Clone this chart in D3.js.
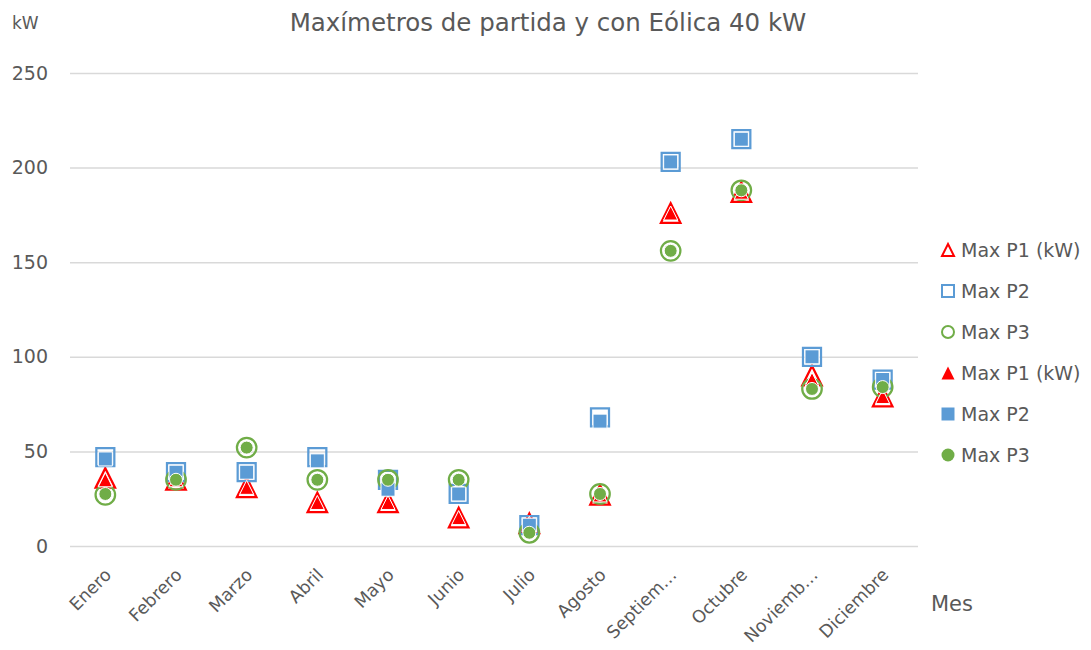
<!DOCTYPE html>
<html><head><meta charset="utf-8">
<script src="https://cdn.jsdelivr.net/npm/d3@7"></script>
<style>body{margin:0;background:#fff}svg{display:block}text{font-family:"DejaVu Sans",sans-serif;fill:#595959}</style>
</head><body><svg id="c" width="1091" height="650"></svg>
<script>
const months = ["Enero","Febrero","Marzo","Abril","Mayo","Junio","Julio","Agosto","Septiembre","Octubre","Noviembre","Diciembre"];
const monthLabels = ["Enero","Febrero","Marzo","Abril","Mayo","Junio","Julio","Agosto","Septiem…","Octubre","Noviemb…","Diciembre"];
const yTicks = [0,50,100,150,200,250];
// Maxímetros de partida (hollow markers)
const p1Partida = [36,35,31,23,23,15,12,27,176,187,90,79];
const p2Partida = [47,39,39,47,35,27.5,11,68,203,215,100,88];
const p3Partida = [27,35,52,35,35,35,7,27.5,156,188,83,84];
// Con Eólica 40 kW (filled markers)
const p1Eolica = [35,35,31,23,23,15,12,27,176,187,88,79];
const p2Eolica = [46,39,39,45,30,27.5,11,66,203,215,100,88];
const p3Eolica = [27.5,35,52,35,35,35,7,27.5,156,188,83,84];
const seriesNames = ["Max P1 (kW)","Max P2","Max P3","Max P1 (kW)","Max P2","Max P3"];

const svg = d3.select("#c");
const L=70,R=918,T=73,B=546;
const x = d3.scaleBand().domain(months).range([L,R]);
const y = d3.scaleLinear().domain([0,250]).range([B,T]);

// gridlines + y axis
const ya = svg.append("g").attr("transform",`translate(${L},0)`)
  .call(d3.axisLeft(y).tickValues(yTicks).tickSize(-(R-L)).tickPadding(22));
ya.select(".domain").remove();
ya.selectAll("line").attr("stroke","#d9d9d9").attr("stroke-width",1.5);
ya.selectAll("text").attr("font-size",19).style("font-family","DejaVu Sans").attr("fill","#595959");

// x axis labels
const xa = svg.append("g").attr("transform",`translate(0,${B})`)
  .call(d3.axisBottom(x).tickSize(0).tickFormat((d,i)=>monthLabels[i]));
xa.select(".domain").remove();
xa.selectAll("text").attr("font-size",17.5).style("font-family","DejaVu Sans").attr("fill","#595959")
  .attr("text-anchor","end").attr("dy","0").attr("y",0)
  .attr("transform","translate(7,30) rotate(-45)");

// shape paths centered on bbox
function shape(type, s){
  const h=s/2;
  if(type==="tri") return `M0,${-h}L${h},${h}L${-h},${h}Z`;
  if(type==="sq") return `M${-h},${-h}H${h}V${h}H${-h}Z`;
  return `M${h},0A${h},${h} 0 1,1 ${-h},0A${h},${h} 0 1,1 ${h},0Z`;
}
const colors = ["#FF0000","#5B9BD5","#70AD47"];
const types = ["tri","sq","circ"];
const hollow = [p1Partida,p2Partida,p3Partida];
const filled = [p1Eolica,p2Eolica,p3Eolica];
const cx = m => x(m)+x.bandwidth()/2;

hollow.forEach((vals,k)=>{
  svg.append("g").selectAll("path").data(vals).join("path")
    .attr("d",shape(types[k], types[k]==="sq"?18:19.5))
    .attr("transform",(d,i)=>`translate(${cx(months[i])},${y(d)})`)
    .attr("fill","none").attr("stroke",colors[k]).attr("stroke-width",2.25);
});
filled.forEach((vals,k)=>{
  svg.append("g").selectAll("path").data(vals).join("path")
    .attr("d",shape(types[k], types[k]==="circ"?13:14))
    .attr("transform",(d,i)=>`translate(${cx(months[i])},${y(d)})`)
    .attr("fill",colors[k]).attr("stroke","#fff").attr("stroke-width",1);
});

// title and axis titles
svg.append("text").attr("x",548).attr("y",31).attr("text-anchor","middle")
  .attr("font-size",24.5).text("Maxímetros de partida y con Eólica 40 kW");
svg.append("text").attr("x",12).attr("y",29).attr("font-size",17).text("kW");
svg.append("text").attr("x",952).attr("y",611).attr("text-anchor","middle")
  .attr("font-size",21).text("Mes");

// legend
const lg = svg.append("g");
seriesNames.forEach((n,i)=>{
  const k=i%3, isFilled=i>=3, yy=250+i*41;
  lg.append("path").attr("d",shape(types[k],isFilled?13:12))
    .attr("transform",`translate(948,${yy})`)
    .attr("fill",isFilled?colors[k]:"none").attr("stroke",isFilled?"none":colors[k])
    .attr("stroke-width",2);
  lg.append("text").attr("x",961).attr("y",yy).attr("dy","0.36em")
    .attr("font-size",19).text(n);
});
</script></body></html>
